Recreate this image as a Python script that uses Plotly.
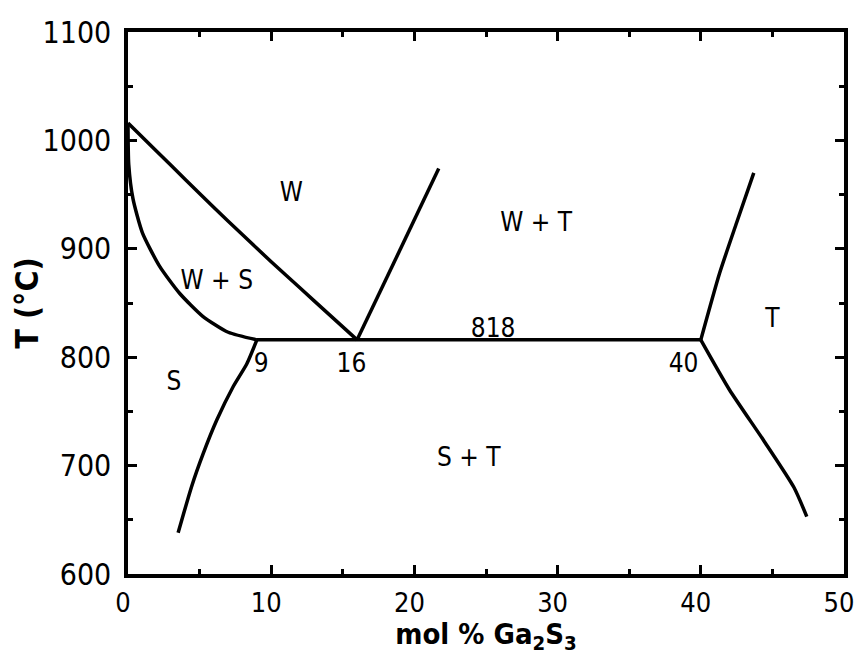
import plotly.graph_objects as go

# Phase boundaries (mol % Ga2S3, T in °C)
liquidus_x = [0, 2, 4, 6, 8, 10, 12, 14, 16]
liquidus_T = [1016, 990, 964, 938, 913, 888, 864, 840, 816]

ws_solidus_x = [0, 0.05, 0.35, 1.0, 2.2, 3.6, 5.2, 7.0, 9.0]
ws_solidus_T = [1016, 978, 946, 915, 884, 859, 838, 823, 816]

eutectoid_x = [9, 40]
eutectoid_T = [816, 816]

s_solvus_x = [9.0, 8.3, 7.35, 6.2, 5.25, 4.45, 3.5]
s_solvus_T = [816, 794, 773, 742, 711, 681, 638]

wt_x = [16, 21.7]
wt_T = [816, 974]

t_upper_x = [40, 41.3, 42.5, 43.7]
t_upper_T = [816, 877, 924, 970]

t_lower_x = [40, 42.0, 44.4, 46.5, 47.4]
t_lower_T = [816, 770, 723, 680, 653]

label_text = ["W", "W + S", "W + T", "S", "9", "16", "818", "40", "T", "S + T"]
label_x = [11.4, 6.2, 28.5, 3.2, 9.3, 15.6, 25.5, 38.8, 45.0, 23.8]
label_T = [950, 869, 922, 776, 792, 792, 825, 792, 834, 706]

FONT = "DejaVu Sans Condensed, Liberation Sans Narrow, DejaVu Sans, sans-serif"

fig = go.Figure()
line_style = dict(color="black", width=3.5)
for xs, ts in [(liquidus_x, liquidus_T), (ws_solidus_x, ws_solidus_T),
               (eutectoid_x, eutectoid_T), (s_solvus_x, s_solvus_T),
               (wt_x, wt_T), (t_upper_x, t_upper_T), (t_lower_x, t_lower_T)]:
    fig.add_trace(go.Scatter(x=xs, y=ts, mode="lines",
                             line=dict(line_style, shape="spline", smoothing=0.6),
                             showlegend=False, hoverinfo="skip"))

fig.add_trace(go.Scatter(x=label_x, y=label_T, text=label_text, mode="text",
                         textfont=dict(family=FONT, size=26, color="black"),
                         showlegend=False, hoverinfo="skip"))

axis_common = dict(
    showline=True, linecolor="black", linewidth=3.5, mirror="ticks",
    ticks="inside", ticklen=9, tickwidth=2.5, tickcolor="black",
    showgrid=False, zeroline=False, automargin=False,
)

# page body adds an 8px offset; size the figure so the plot lands where the reference's does
fig.update_layout(
    width=855, height=647,
    margin=dict(l=120, r=19, t=24, b=81),
    paper_bgcolor="white", plot_bgcolor="white",
    xaxis=dict(axis_common, range=[0, 50], dtick=10, tick0=0,
               tickfont=dict(family=FONT, size=27, color="black"),
               minor=dict(ticks="inside", dtick=5, ticklen=5, tickwidth=2.5, tickcolor="black"),
               ticklabelstandoff=2, ticklabelshift=-5,
               title=dict(text="<b>mol % Ga<sub>2</sub>S<sub>3</sub></b>", standoff=5,
                          font=dict(family=FONT, size=29, color="black"))),
    yaxis=dict(axis_common, range=[600, 1100], dtick=100, tick0=600,
               tickfont=dict(family=FONT, size=30, color="black"),
               minor=dict(ticks="inside", dtick=50, ticklen=5, tickwidth=2.5, tickcolor="black"),
               ticklabelstandoff=7,
               title=dict(text="<b>T (°C)</b>", standoff=6,
                          font=dict(family=FONT, size=32, color="black"))),
)

fig.write_html("out.html")
